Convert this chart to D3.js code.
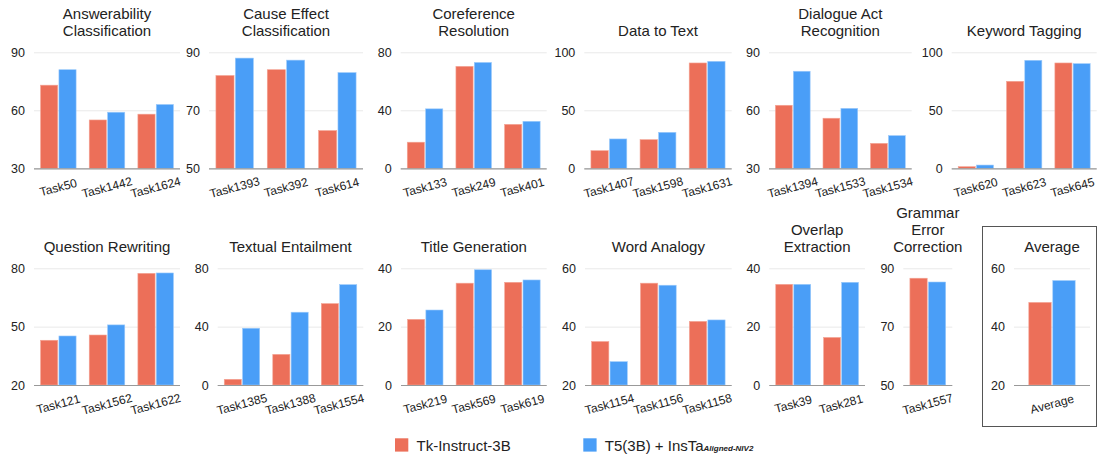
<!DOCTYPE html>
<html>
<head>
<meta charset="utf-8">
<script src="https://cdn.jsdelivr.net/npm/d3@7"></script>
<style>
  html, body { margin: 0; padding: 0; background: #fff; }
  svg { display: block; font-family: "Liberation Sans", Arial, Helvetica, sans-serif; }
</style>
</head>
<body>
<svg id="chart" width="1099" height="454"></svg>
<script>
// ---------------- DATA ----------------
const panelTitles = [
  "Answerability\nClassification", "Cause Effect\nClassification", "Coreference\nResolution",
  "Data to Text", "Dialogue Act\nRecognition", "Keyword Tagging",
  "Question Rewriting", "Textual Entailment", "Title Generation",
  "Word Analogy", "Overlap\nExtraction", "Grammar\nError\nCorrection", "Average"
];
const panelTasks = [
  ["Task50", "Task1442", "Task1624"],
  ["Task1393", "Task392", "Task614"],
  ["Task133", "Task249", "Task401"],
  ["Task1407", "Task1598", "Task1631"],
  ["Task1394", "Task1533", "Task1534"],
  ["Task620", "Task623", "Task645"],
  ["Task121", "Task1562", "Task1622"],
  ["Task1385", "Task1388", "Task1554"],
  ["Task219", "Task569", "Task619"],
  ["Task1154", "Task1156", "Task1158"],
  ["Task39", "Task281"],
  ["Task1557"],
  ["Average"]
];
const tkInstruct3B = [
  [73, 55, 58],
  [82, 84, 63],
  [18, 70.3, 30.3],
  [15.2, 24.7, 90.8],
  [62.6, 55.9, 42.9],
  [1.4, 75, 90.8],
  [43, 45.7, 77.4],
  [3.9, 21, 55.8],
  [22.5, 34.9, 35.2],
  [34.9, 54.9, 41.8],
  [34.5, 16.3],
  [86.6],
  [48.3]
];
const t5InsTaAligned = [
  [81, 59, 63],
  [88, 87.3, 83],
  [41, 73, 32.4],
  [25.3, 31, 92.2],
  [80.2, 61, 46.9],
  [2.8, 93.1, 90.2],
  [45.2, 50.9, 77.6],
  [38.9, 49.9, 68.8],
  [25.7, 39.5, 36],
  [28, 54.2, 42.3],
  [34.5, 35.2],
  [85.3],
  [55.8]
];
const yTickValues = [
  [30, 60, 90], [50, 70, 90], [0, 40, 80], [0, 50, 100], [30, 60, 90], [0, 50, 100],
  [20, 50, 80], [0, 40, 80], [0, 20, 40], [20, 40, 60], [0, 20, 40], [50, 70, 90], [20, 40, 60]
];
const seriesKeys = ["tk", "insta"];
const seriesNames = ["Tk-Instruct-3B", "T5(3B) + InsTa"];
const seriesSubs = ["", "Aligned-NIV2"];

// ---------------- LAYOUT ----------------
const colors = { tk: "#EC6F59", insta: "#4A9EF7" };
const panelX = [
  [34, 180], [209, 363], [400.7, 546.7], [584.3, 731.7], [769, 911.7], [951.7, 1096.7],
  [34, 180], [217.7, 363.3], [401, 546.7], [585, 731.7], [769.3, 865], [903.3, 952.3], [1014, 1090]
];
const rowY = [{ base: 168.3, top: 52.3 }, { base: 385, top: 268.3 }];
const font = "'Liberation Sans', Arial, Helvetica, sans-serif";

const svg = d3.select("#chart");

// Average box
svg.append("rect")
  .attr("x", 982.5).attr("y", 226.5)
  .attr("width", 114).attr("height", 200)
  .attr("fill", "none").attr("stroke", "#555").attr("stroke-width", 1);

panelTitles.forEach((title, i) => {
  const row = i < 6 ? 0 : 1;
  const { base, top } = rowY[row];
  const [gx0, gx1] = panelX[i];
  const ticks = yTickValues[i];
  const g = svg.append("g");

  const y = d3.scaleLinear().domain([ticks[0], ticks[ticks.length - 1]]).range([base, top]);
  const x = d3.scaleBand().domain(panelTasks[i]).range([gx0, gx1]);
  const innerFrac = i === 12 ? 0.61 : 0.73;
  const groupW = x.bandwidth() * innerFrac;
  const xs = d3.scaleBand().domain(seriesKeys).range([0, groupW]).paddingInner(0.065);
  const off = (x.bandwidth() - groupW) / 2;

  // y axis with grid
  const yAxis = g.append("g")
    .attr("transform", `translate(${gx0},0)`)
    .call(d3.axisLeft(y).tickValues(ticks).tickSize(-(gx1 - gx0)).tickPadding(9).tickFormat(d3.format("d")));
  yAxis.select(".domain").remove();
  yAxis.selectAll(".tick line").attr("stroke", "#e9e9e9").attr("stroke-width", 1);
  yAxis.selectAll(".tick text")
    .attr("font-family", font).attr("font-size", 12.5).attr("fill", "#222");

  // bars
  const rows = panelTasks[i].map((t, j) => ({ task: t, tk: tkInstruct3B[i][j], insta: t5InsTaAligned[i][j] }));
  rows.forEach(r => {
    seriesKeys.forEach(k => {
      g.append("rect")
        .attr("x", x(r.task) + off + xs(k))
        .attr("y", y(r[k]))
        .attr("width", xs.bandwidth())
        .attr("height", base - y(r[k]))
        .attr("fill", colors[k])
        .attr("stroke", k === "tk" ? "#f4a596" : "#9ccafb")
        .attr("stroke-width", 0.6);
    });
  });

  // x axis
  const xAxis = g.append("g")
    .attr("transform", `translate(0,${base})`)
    .call(d3.axisBottom(x).tickSize(0).tickPadding(0));
  xAxis.select(".domain").attr("stroke", "#999").attr("stroke-width", 1.2)
    .attr("d", `M${gx0},0.5H${gx1}`);
  xAxis.selectAll(".tick text")
    .attr("y", 0).attr("dy", "0.35em")
    .attr("transform", "translate(0,19) rotate(-15)")
    .attr("text-anchor", "middle")
    .attr("font-family", font).attr("font-size", 12).attr("fill", "#222");

  // title
  const lines = title.split("\n");
  const cx = (gx0 + gx1) / 2;
  const lastBase = top - 16.2;
  const lh = 17;
  const tt = g.append("text")
    .attr("text-anchor", "middle")
    .attr("font-family", font).attr("font-size", 15).attr("fill", "#222");
  lines.forEach((ln, k) => {
    tt.append("tspan").attr("x", cx).attr("y", lastBase - (lines.length - 1 - k) * lh).text(ln);
  });
});

// legend
const legendX = [395, 583.3];
seriesKeys.forEach((k, i) => {
  const lg = svg.append("g");
  lg.append("rect").attr("x", legendX[i]).attr("y", 438.3).attr("width", 13.3).attr("height", 13.3).attr("fill", colors[k]);
  const t = lg.append("text")
    .attr("x", legendX[i] + 21.5).attr("y", 451)
    .attr("font-family", font).attr("font-size", 15).attr("fill", "#222")
    .text(seriesNames[i]);
  if (seriesSubs[i]) {
    t.append("tspan").attr("font-size", 8).attr("font-weight", "bold").attr("font-style", "italic")
      .attr("dy", 0).text(seriesSubs[i]);
  }
});
</script>
</body>
</html>
